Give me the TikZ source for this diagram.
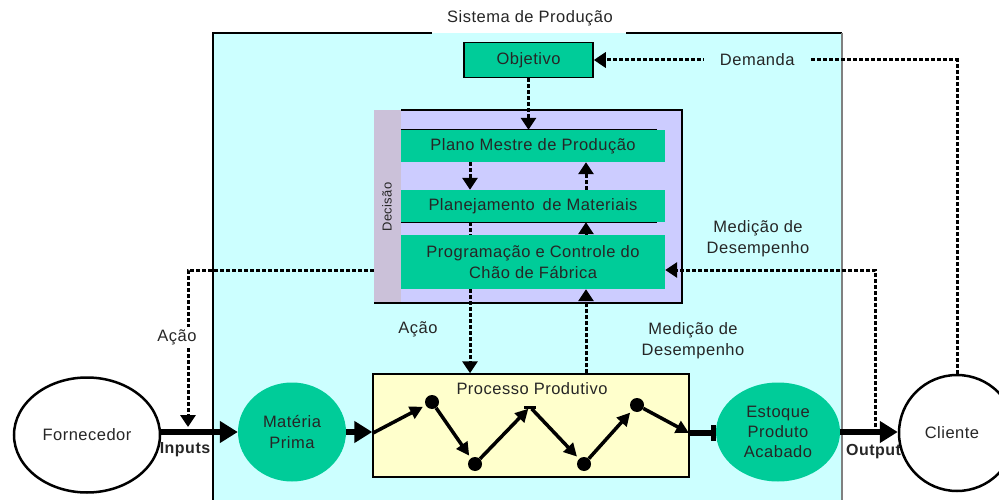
\documentclass[tikz,border=0pt]{standalone}
\usepackage{fontspec}
\setmainfont[LetterSpace=3]{Liberation Sans}
\usetikzlibrary{arrows.meta,shapes.geometric,calc}

\definecolor{teal}{HTML}{00CC99}
\definecolor{cyanbg}{HTML}{CCFFFF}
\definecolor{lav}{HTML}{CCCCFF}
\definecolor{strip}{HTML}{CBC1D9}
\definecolor{cream}{HTML}{FFFFCC}
\newcommand{\lbl}{\fontsize{16.5}{21}\selectfont}

\tikzset{
  every node/.style={font=\lbl, text=black!85},
  gbox/.style={fill=teal, inner sep=0pt, align=center, minimum width=264pt},
  dotline/.style={line width=3pt, dash pattern=on 4pt off 2pt},
  dotarrow/.style={dotline, -{Triangle[length=12pt,width=15pt]}},
  fatarrow/.style={line width=6.5pt, -{Triangle[length=18pt,width=21pt]}},
  zigarrow/.style={line width=3.5pt, -{Triangle[length=13pt,width=13pt]}, shorten >=3pt},
  zdot/.style={circle, fill=black, inner sep=0pt, minimum size=14pt},
}

\begin{document}
\begin{tikzpicture}[x=1pt,y=-1pt]
\useasboundingbox (0,0) rectangle (999,500);

% production system frame
\fill[cyanbg] (213,33) rectangle (842,510);
\draw[line width=1.5pt] (213,510) -- (213,33) -- (432,33);
\draw[line width=1.5pt] (626,33) -- (842,33);
\draw[line width=1.5pt, gray] (842,33) -- (842,510);
\node (title) at (530,18) {Sistema de Produção};

% objective
\node[draw, line width=1.5pt, fill=teal, minimum width=129pt, minimum height=35pt, inner sep=0pt] (obj) at (528.5,60) {Objetivo};

% decision panel
\node[fill=lav, minimum width=308pt, minimum height=193pt, inner sep=0pt] (dec) at (528,206.5) {};
\fill[strip] (374,110) rectangle (401,303);
\draw[line width=1.5pt] (401,110) -- (682,110) -- (682,303) -- (374,303);
\node[rotate=90, font=\fontsize{13}{15}\selectfont] (decl) at (387,207) {Decisão};

\node[gbox, minimum height=32pt] (pmp) at (533,146) {Plano Mestre de Produção};
\node[gbox, minimum height=32pt] (pm) at (533,206) {Planejamento\, de Materiais};
\node[gbox, minimum height=54pt] (pcp) at (533,262) {Programação e Controle do\\Chão de Fábrica};
\draw[line width=1pt] (pmp.north west) -- ++(256,0);
\draw[line width=1pt] (pm.south west) -- ++(256,0);

% productive process
\node[draw, line width=1.5pt, fill=cream, minimum width=316pt, minimum height=103pt, inner sep=0pt] (proc) at (531,425.5) {};
\node (proct) at (532,389) {Processo Produtivo};

\coordinate (z0) at (373,433);
\node[zdot] (z1) at (432,402) {};
\node[zdot] (z2) at (475,464) {};
\node[inner sep=0pt, minimum width=12pt, minimum height=3pt, fill=black] (z3) at (530,407) {};
\node[zdot] (z4) at (584,464) {};
\node[zdot] (z5) at (637,405) {};
\coordinate (z6) at (689,433);
\draw[zigarrow] (z0) -- (z1);
\draw[zigarrow] (z1) -- (z2);
\draw[zigarrow, shorten >=0pt] (z2) -- (z3);
\draw[zigarrow] (z3) -- (z4);
\draw[zigarrow] (z4) -- (z5);
\draw[zigarrow, shorten >=0pt] (z5) -- (z6);

% material flow
\node[ellipse, draw, line width=2.5pt, fill=white, minimum width=146pt, minimum height=115pt, inner sep=0pt] (forn) at (87,435) {Fornecedor};
\node[ellipse, fill=teal, minimum width=108pt, minimum height=99pt, inner sep=0pt, align=center] (mp) at (292,432) {Matéria\\Prima};
\node[ellipse, fill=teal, minimum width=124pt, minimum height=99pt, inner sep=0pt, align=center, font=\fontsize{16.5}{20}\selectfont] (est) at (778,432) {Estoque\\Produto\\Acabado};

\draw[fatarrow] (forn.east |- mp.west) -- (mp.west);
\draw[fatarrow] (mp.east) -- (proc.west |- mp.east);
\draw[line width=6.5pt, -{Rectangle[length=5pt,width=16pt]}] (z6) -- (est.west |- z6);
\node[font=\fontsize{16}{18}\selectfont\bfseries] (inp) at (185,450) {Inputs};
\node[font=\fontsize{16}{18}\selectfont\bfseries, anchor=west, inner sep=0pt] (outp) at (846,452) {Output};

\node[circle, draw, line width=2.5pt, fill=white, minimum size=116pt, inner sep=0pt] (cli) at (957,433) {};
\node (clit) at (952,433) {Cliente};
\draw[fatarrow] (est.east) -- (cli.west |- est.east);

% information flows
\coordinate (cl) at (470,0);
\coordinate (cr) at (586,0);
\draw[dotarrow] (obj.south) -- (obj.south |- pmp.north);
\draw[dotarrow] (cl |- pmp.south) -- (cl |- pm.north);
\draw[dotline] (cl |- pm.south) -- (cl |- pcp.north);
\draw[dotarrow] (cl |- pcp.south) -- (cl |- proc.north);
\draw[dotarrow] (cr |- proc.north) -- (cr |- pcp.south);
\draw[dotarrow] (cr |- pcp.north) -- (cr |- pm.south);
\draw[dotarrow] (cr |- pm.north) -- (cr |- pmp.south);
\node (acao1) at (418,329) {Ação};
\node[align=center] (med1) at (693,341) {Medição de\\Desempenho};

% demand from the customer
\draw[dotarrow] (cli.north) |- (obj.east) node[pos=0.775, fill=cyanbg, inner xsep=16pt] (dem) {Demanda};

% performance measurement of the output
\coordinate (mout) at (875,427);
\draw[dotarrow] (mout) |- ([yshift=-8pt]pcp.east);
\node[align=center] (med2) at (758,239) {Medição de\\Desempenho};

% action towards the supplier
\coordinate (ain) at (374,270);
\coordinate (aout) at (188,427);
\draw[dotarrow] (ain) -| (aout);
\node[fill=white, inner sep=2pt] (acao2) at (177,337) {Ação};
\end{tikzpicture}
\end{document}
